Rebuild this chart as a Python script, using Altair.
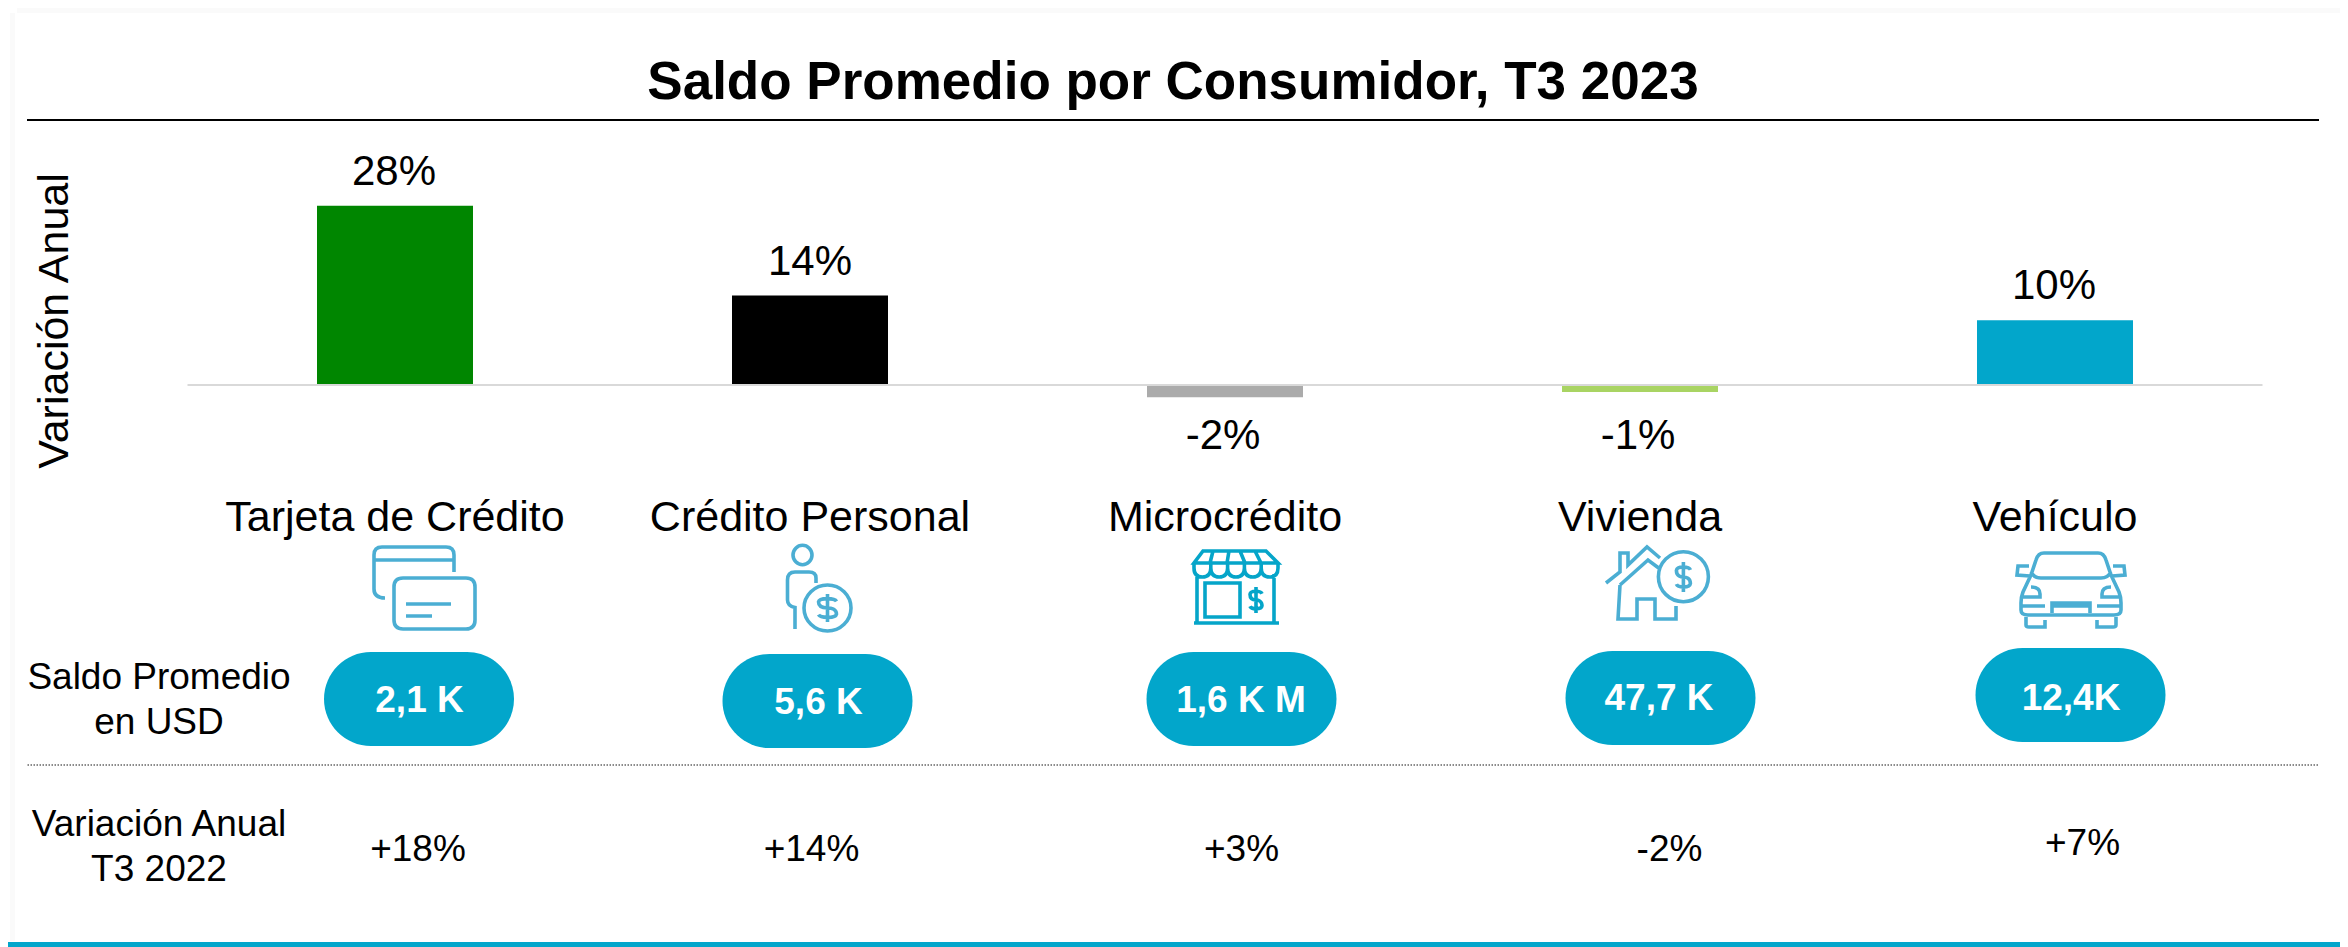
import re
import altair as alt

categories = ["Tarjeta de Crédito", "Crédito Personal", "Microcrédito", "Vivienda", "Vehículo"]
variacion = [28.0, 14.0, -1.9, -1.1, 10.1]
variacion_labels = ["28%", "14%", "-2%", "-1%", "10%"]
saldo_labels = ["2,1 K", "5,6 K", "1,6 K M", "47,7 K", "12,4K"]
previo_labels = ["+18%", "+14%", "+3%", "-2%", "+7%"]
bar_colors = ["#008600", "#000000", "#ABABAB", "#A9D463", "#02A6CB"]

TITLE = "Saldo Promedio por Consumidor, T3 2023"
FONT = "Liberation Sans"
TEAL = "#02A6CB"
ICON = "#4BAED3"
OX, OY = 8, 8


def px(v):
    return v - OX


def py(v):
    return v - OY


rows = [{"cat": c, "v": v, "label": l, "color": k}
        for c, v, l, k in zip(categories, variacion, variacion_labels, bar_colors)]
x_scale = alt.Scale(domain=categories, range=[px(187.5), px(2262.5)], paddingInner=0, paddingOuter=0)
y_scale = alt.Scale(domain=[-87.81, 58.9], range=[939, 0], nice=False, zero=False)
X = alt.X("cat:N", scale=x_scale, axis=None, sort=categories)
Y = alt.Y("v:Q", scale=y_scale, axis=None)
one = alt.Data(values=[{"a": 1}])


def one_cat(c):
    return alt.Data(values=[{"cat": c}])


def box(x1, x2, y1, y2, color):
    return alt.Chart(one).mark_rect(color=color, opacity=1).encode(
        x=alt.value(px(x1)), x2=alt.value(px(x2)), y=alt.value(py(y1)), y2=alt.value(py(y2)))


def free_text(s, cx, cy, size, bold=False, color="#000000"):
    return alt.Chart(one).mark_text(
        text=s, font=FONT, fontSize=size, fontWeight="bold" if bold else "normal",
        color=color, align="center", baseline="middle"
    ).encode(x=alt.value(px(cx)), y=alt.value(py(cy)))


def cat_text(c, s, cy, size, dx=0, bold=False, color="#000000"):
    return alt.Chart(one_cat(c)).mark_text(
        text=s, font=FONT, fontSize=size, fontWeight="bold" if bold else "normal",
        color=color, align="center", baseline="middle", dx=dx
    ).encode(x=X, y=alt.value(py(cy)))


# ---------- icon glyphs (drawn with path commands, around an anchor) ----------
def ell(cx, cy, rx, ry):
    k = 0.5523
    return (f"M {cx-rx} {cy} C {cx-rx} {cy-k*ry} {cx-k*rx} {cy-ry} {cx} {cy-ry} "
            f"C {cx+k*rx} {cy-ry} {cx+rx} {cy-k*ry} {cx+rx} {cy} "
            f"C {cx+rx} {cy+k*ry} {cx+k*rx} {cy+ry} {cx} {cy+ry} "
            f"C {cx-k*rx} {cy+ry} {cx-rx} {cy+k*ry} {cx-rx} {cy} Z ")


def dollar(cx, cy, w, h):
    t, m, b = cy - h * 0.30, cy, cy + h * 0.30
    return (f"M {cx} {cy-h/2} L {cx} {cy+h/2} "
            f"M {cx+w} {t+h*0.06} C {cx+w*0.8} {t-h*0.06} {cx-w*0.9} {t-h*0.08} {cx-w} {t+h*0.08} "
            f"C {cx-w} {t+h*0.28} {cx-w*0.3} {m} {cx} {m} "
            f"C {cx+w*0.4} {m} {cx+w} {b-h*0.26} {cx+w} {b-h*0.08} "
            f"C {cx+w*0.9} {b+h*0.08} {cx-w*0.8} {b+h*0.06} {cx-w} {b-h*0.06} ")


def rrect(x1, y1, x2, y2, r):
    return (f"M {x1+r} {y1} L {x2-r} {y1} Q {x2} {y1} {x2} {y1+r} L {x2} {y2-r} Q {x2} {y2} {x2-r} {y2} "
            f"L {x1+r} {y2} Q {x1} {y2} {x1} {y2-r} L {x1} {y1+r} Q {x1} {y1} {x1+r} {y1} Z ")


card_path = ("M 454 572 L 454 555 Q 454 547 446 547 L 382 547 Q 374 547 374 555 L 374 589 Q 374 598 385 598 "
             "M 374 560 L 454 560 " + rrect(394, 578, 475, 629, 9) +
             "M 406 604 L 451 604 M 406 616 L 432 616 ")

person_path = (ell(802.5, 555, 9.5, 9.7) +
               "M 816 583 L 816 578 Q 816 572 809 572 L 795 572 Q 787.5 572 787.5 580 L 787.5 600 Q 787.5 606 795 607.5 L 795 629 " +
               ell(827.5, 608, 23.5, 23) + dollar(827.5, 608, 9, 28))

scallops = "M 1194 563 "
for i in range(5):
    a = 1194 + 16.8 * i
    scallops += f"L {a} 568 Q {a} 577 {a+8.4} 577 Q {a+16.8} 577 {a+16.8} 568 L {a+16.8} 563 M {a+16.8} 563 "
store_path = ("M 1203 551 L 1266 551 L 1278 563 L 1194 563 Z M 1213 551 L 1210 563 M 1229 551 L 1227 563 "
              "M 1240 551 L 1245 563 M 1255 551 L 1261 563 " + scallops +
              "M 1197 574 L 1197 622 M 1274 574 L 1274 622 M 1194 623 L 1279 623 "
              "M 1205 583 L 1240 583 L 1240 617 L 1205 617 Z " + dollar(1256, 600, 6, 26))

house_path = ("M 1606 583 L 1620 572 L 1620 553 L 1628 553 L 1628 565 L 1647 547 L 1660 558 "
              "M 1620 585 L 1648 560 L 1660 569 "
              "M 1620 585 L 1618 619 L 1637 619 L 1637 599 L 1655 599 L 1655 619 L 1676 619 L 1676 606 " +
              ell(1683.4, 576.7, 25, 25) + dollar(1683.4, 577, 7, 30))

car_path = ("M 2031 575 L 2036 560 Q 2038 553 2044 553 L 2098 553 Q 2104 553 2106 560 L 2111 575 "
            "M 2031 572 Q 2034 578 2041 578 L 2101 578 Q 2108 578 2111 572 "
            "M 2031 575 L 2023 592 Q 2021 597 2021 603 L 2021 610 Q 2021 615 2028 615 L 2114 615 Q 2121 615 2121 610 L 2121 603 Q 2121 597 2119 592 L 2111 575 "
            "M 2029 566 L 2018 566 L 2017 575 L 2030 576 M 2113 566 L 2124 566 L 2125 575 L 2112 576 "
            "M 2031 587 Q 2040 587 2040 594 L 2040 597 L 2021 597 M 2111 587 Q 2102 587 2102 594 L 2102 597 L 2121 597 "
            "M 2021 606 L 2045 606 M 2097 606 L 2121 606 "
            "M 2052 613 L 2052 603 L 2090 603 L 2090 613 M 2052 606 L 2090 606 "
            "M 2026 617 L 2026 625 Q 2026 627 2029 627 L 2045 627 L 2045 620 "
            "M 2116 617 L 2116 625 Q 2116 627 2113 627 L 2097 627 L 2097 620 ")

icon_paths = [card_path, person_path, store_path, house_path, car_path]
icon_colors = [ICON, ICON, "#05A5C9", ICON, ICON]
band_centers = [395, 810, 1225, 1640, 2055]
ICON_Y = 588


def shift(path, dx, dy):
    i = [0]

    def rep(m):
        v = float(m.group(0)) - (dx if i[0] % 2 == 0 else dy)
        i[0] += 1
        return f"{v:.2f}"
    return re.sub(r"-?\d+(?:\.\d+)?", rep, path)


layers = []
# page furniture
layers.append(box(17, 2340, 7, 13, "#FAFAFA"))
layers.append(box(10, 15, 13, 941, "#FAFAFA"))
layers.append(box(8, 2340, 942, 947, TEAL))
layers.append(box(27, 2319, 119, 121, "#000000"))
layers.append(alt.Chart(one).mark_rule(color="#666666", strokeWidth=1.5, strokeDash=[1.5, 1.5]).encode(
    x=alt.value(px(27.5)), x2=alt.value(px(2319)), y=alt.value(py(765))))
layers.append(free_text(TITLE, 1173, 83, 53, bold=True))

# bars, zero line and labels
data = alt.Data(values=rows)
layers.append(alt.Chart(data).mark_bar(width=156, opacity=1).encode(
    x=X, y=Y, y2=alt.Y2(datum=0), color=alt.Color("color:N", scale=None, legend=None)))
layers.append(alt.Chart(one).mark_rule(color="#D9D9D9", strokeWidth=2).encode(
    x=alt.value(px(187.5)), x2=alt.value(px(2262.5)), y=alt.Y(datum=0, scale=y_scale, axis=None)))
dys = [-34, -33, 39, 44, -34]
dxs = [-1, 0, -2, -2, -1]
for r, dy, dx in zip(rows, dys, dxs):
    layers.append(alt.Chart(alt.Data(values=[r])).mark_text(
        font=FONT, fontSize=42, color="#000000", align="center", baseline="middle", dy=dy, dx=dx
    ).encode(x=X, y=Y, text="label:N"))

# y title
layers.append(alt.Chart(one).mark_text(
    text="Variación Anual", font=FONT, fontSize=43, angle=270, color="#000000",
    align="center", baseline="middle"
).encode(x=alt.value(px(55)), y=alt.value(py(321))))

# category labels, icons
for c, cx, ip, ic in zip(categories, band_centers, icon_paths, icon_colors):
    layers.append(cat_text(c, c, 518, 43))
    layers.append(alt.Chart(one_cat(c)).mark_point(
        shape=shift(ip, cx, ICON_Y), size=4, filled=False, stroke=ic, strokeWidth=3.6, opacity=1
    ).encode(x=X, y=alt.value(py(ICON_Y))))

# pills
pill_dx = [24, 7.5, 16.5, 20.5, 15.5]
pill_y = [699, 701, 699, 698, 695]
text_dx = [24.5, 8.5, 16, 19, 16]
text_y = [701, 703, 701, 699, 699]
for c, s, dx, y, tdx, ty in zip(categories, saldo_labels, pill_dx, pill_y, text_dx, text_y):
    layers.append(alt.Chart(one_cat(c)).mark_bar(
        width=190, cornerRadius=47, xOffset=dx, color=TEAL, opacity=1
    ).encode(x=X, y=alt.value(py(y - 47)), y2=alt.value(py(y + 47))))
    layers.append(cat_text(c, s, ty, 37, dx=tdx, bold=True, color="#FFFFFF"))

# previous year row
prev_dx = [23, 1.5, 16.5, 29.5, 27.5]
prev_y = [849.5, 849.5, 849.5, 849.5, 843.5]
for c, s, dx, y in zip(categories, previo_labels, prev_dx, prev_y):
    layers.append(cat_text(c, s, y, 37, dx=dx))

# row headers
layers.append(free_text("Saldo Promedio", 159, 678, 37))
layers.append(free_text("en USD", 159, 723, 37))
layers.append(free_text("Variación Anual", 159, 825, 37))
layers.append(free_text("T3 2022", 159, 870, 37))

chart = alt.layer(*layers).properties(
    width=2332, height=939, padding=0, background="#FFFFFF",
    autosize=alt.AutoSizeParams(type="none")
).configure_view(stroke=None)

chart.save("out.html", embed_options={"renderer": "svg", "actions": False})
